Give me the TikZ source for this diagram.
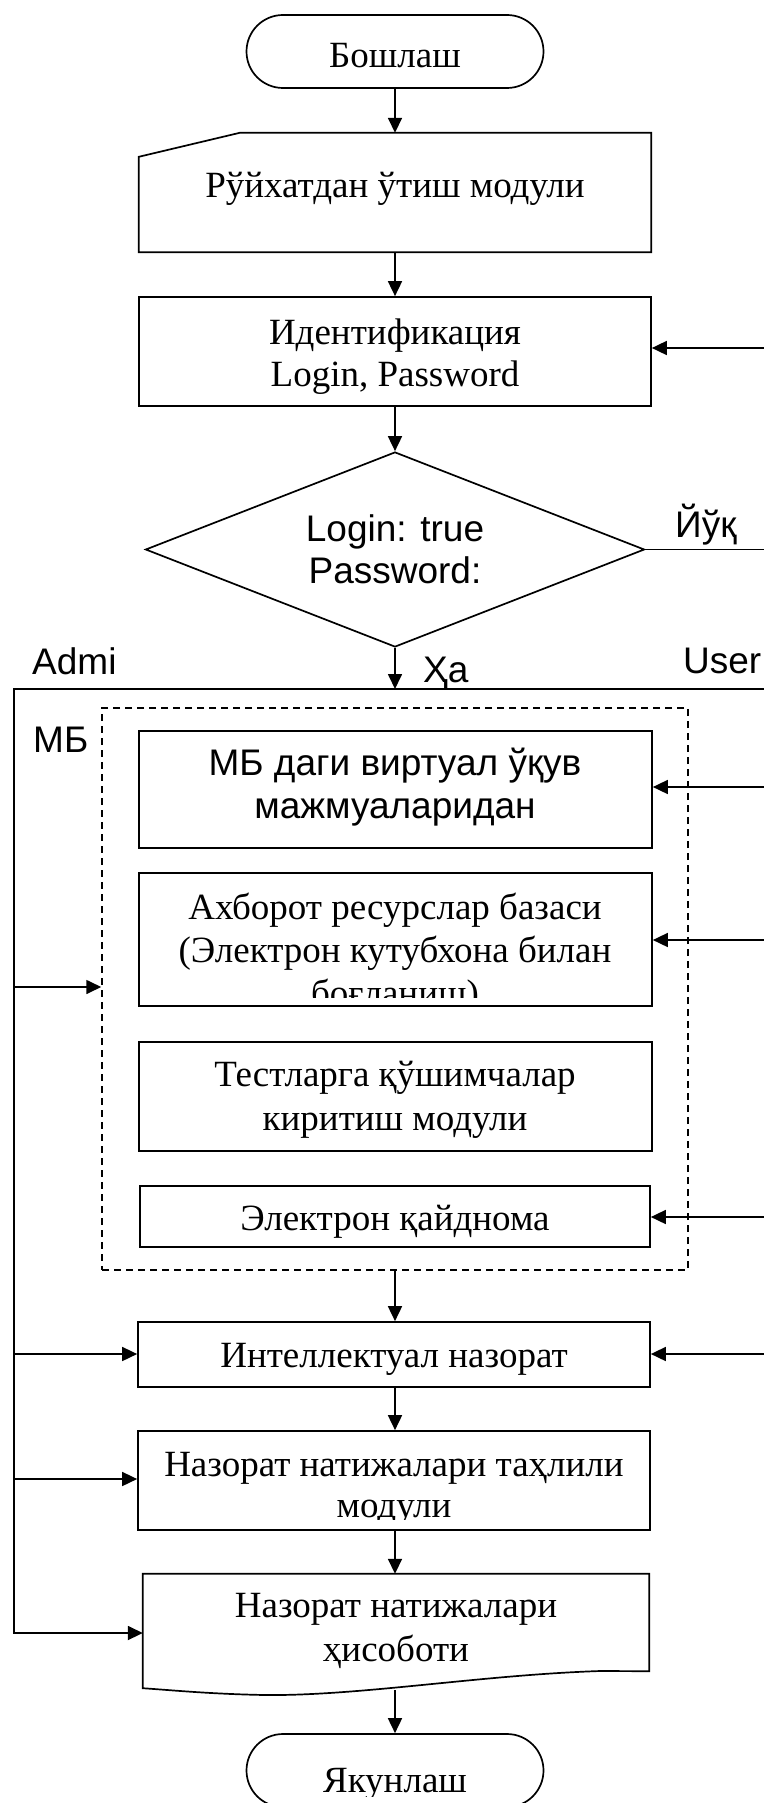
\documentclass[tikz,border=0pt]{standalone}
\usepackage{fontspec}
\setmainfont{Liberation Serif}
\newfontfamily\arialf{Liberation Sans}
\usetikzlibrary{arrows.meta,shapes.geometric}
\begin{document}
\begin{tikzpicture}[x=1pt,y=-1pt,
  ln/.style={line width=1.7pt},
  arr/.style={ln, -{Triangle[length=15pt,width=14pt]}},
  term/.style={draw, ln, rounded corners=36.5pt, minimum width=297pt, minimum height=73pt, inner sep=0pt},
  rbox/.style={draw, ln, inner sep=0pt},
  ghost/.style={draw=none, inner sep=0pt},
  txt/.style={anchor=base, inner sep=0pt, font=\fontsize{37}{42.5}\selectfont},
  sans/.style={anchor=base, inner sep=0pt, font=\arialf\fontsize{37}{42.5}\selectfont},
  dashbox/.style={draw, line width=1.5pt, dash pattern=on 7pt off 5pt, inner sep=0pt},
]
\useasboundingbox (0,0) rectangle (763,1803);

% start
\node[term] (start) at (395,51.5) {};
\node[txt] (tstart) at (395,68) {Бошлаш};

% registration (manual input)
\node[ghost, minimum width=512pt, minimum height=119pt] (card) at (395,192.5) {};
\draw[ln] ([xshift=101pt]card.north west) -- (card.north east) -- (card.south east)
  -- (card.south west) -- ([yshift=-24pt]card.north west) -- cycle;
\node[txt] (tcard) at (395,198) {Рўйхатдан ўтиш модули};

% identification
\node[rbox, minimum width=512pt, minimum height=109pt] (id) at (395,351.5) {};
\node[txt] (tid1) at (395,344) {Идентификация};
\node[txt] (tid2) at (395,386) {Login, Password};

% decision
\node[draw, ln, diamond, minimum width=499pt, minimum height=195pt, inner sep=0pt] (dia) at (395,549.5) {};
\node[sans] (tdia1) at (395,541) {Login: true};
\node[sans] (tdia2) at (395,583) {Password:};

% labels
\node[sans, anchor=base west] (lno) at (675,537) {Йўқ};
\node[sans, anchor=base west] (ladm) at (32,674) {Admi};
\node[sans, anchor=base west] (luser) at (683,673) {User};
\node[sans, anchor=base west] (lyes) at (423,682) {Ҳа};
\node[sans, anchor=base west] (lmb) at (33,752) {МБ};

% dashed group
\node[dashbox, minimum width=586pt, minimum height=562pt] (mb) at (395,989) {};

% box 1
\node[rbox, minimum width=513pt, minimum height=117pt] (b1) at (395.5,789.5) {};
\node[sans] (tb1a) at (395,775) {МБ даги виртуал ўқув};
\node[sans] (tb1b) at (395,818) {мажмуаларидан};

% box 2
\node[rbox, minimum width=513pt, minimum height=133pt] (b2) at (395.5,939.5) {};
\node[txt] (tb2a) at (395,919) {Ахборот ресурслар базаси};
\node[txt] (tb2b) at (395,962) {(Электрон кутубхона билан};
\begin{scope}
  \clip (141,875) rectangle (650,997);
  \node[txt] (tb2c) at (395,1005) {боғланиш)};
\end{scope}

% box 3
\node[rbox, minimum width=513pt, minimum height=109pt] (b3) at (395.5,1096.5) {};
\node[txt] (tb3a) at (395,1086) {Тестларга қўшимчалар};
\node[txt] (tb3b) at (395,1130) {киритиш модули};

% box 4
\node[rbox, minimum width=510pt, minimum height=61pt] (b4) at (395,1216.5) {};
\node[txt] (tb4) at (395,1230) {Электрон қайднома};

% intellectual control
\node[rbox, minimum width=512pt, minimum height=65pt] (b5) at (394,1354.5) {};
\node[txt] (tb5) at (394,1367) {Интеллектуал назорат};

% analysis
\node[rbox, minimum width=512pt, minimum height=99pt] (b6) at (394,1480.5) {};
\node[txt] (tb6a) at (394,1476) {Назорат натижалари таҳлили};
\begin{scope}
  \clip (140,1433) rectangle (648,1519);
  \node[txt] (tb6b) at (394,1517) {модули};
\end{scope}

% report (document)
\node[ghost, minimum width=506pt, minimum height=114pt] (rep) at (396,1631) {};
\draw[ln] (rep.south west) -- (rep.north west) -- (rep.north east) -- ([yshift=17pt]rep.south east)
  -- (600,1671) .. controls (480,1675) and (360,1696) .. (265,1695)
  .. controls (210,1694) and (170,1690) .. (rep.south west) -- cycle;
\node[txt] (trep1) at (396,1617) {Назорат натижалари};
\node[txt] (trep2) at (396,1661) {ҳисоботи};

% end
\node[term] (end) at (395,1770.5) {};
\begin{scope}
  \clip (200,1720) rectangle (600,1796);
  \node[txt] (tend) at (395,1792) {Якунлаш};
\end{scope}

% coordinates at the edges
\coordinate (ltop) at (14,689);
\coordinate (rtop) at (775,689);
\coordinate (lbot) at (14,1633);
\coordinate (l1) at (14,987);
\coordinate (l2) at (14,1354);
\coordinate (l3) at (14,1479);
\coordinate (r0) at (775,348);
\coordinate (r1) at (775,787);
\coordinate (r2) at (775,940);
\coordinate (r3) at (775,1217);
\coordinate (r4) at (775,1354);

% main flow
\draw[arr] (start.south) -- (card.north);
\draw[arr] (card.south) -- (id.north);
\draw[arr] (id.south) -- (dia.north);
\draw[arr] (dia.south) -- (dia.south |- ltop);
\draw[ln] (dia.east) -- (dia.east -| rtop);
\draw[arr] (mb.south) -- (b5.north -| mb.south);
\draw[arr] (b5.south -| mb.south) -- (b6.north -| mb.south);
\draw[arr] (b6.south -| mb.south) -- (rep.north -| mb.south);
\draw[arr] ([yshift=-2pt]rep.south -| end.north) -- (end.north);

% admin line
\draw[arr, line join=miter] (rtop) -- (ltop) -- (lbot) -- (lbot -| rep.west);
\draw[arr] (l1) -- (l1 -| mb.west);
\draw[arr] (l2) -- (l2 -| b5.west);
\draw[arr] (l3) -- (l3 -| b6.west);

% user arrows
\draw[arr] (r0) -- (r0 -| id.east);
\draw[arr] (r1) -- (r1 -| b1.east);
\draw[arr] (r2) -- (r2 -| b2.east);
\draw[arr] (r3) -- (r3 -| b4.east);
\draw[arr] (r4) -- (r4 -| b5.east);
\end{tikzpicture}
\end{document}
